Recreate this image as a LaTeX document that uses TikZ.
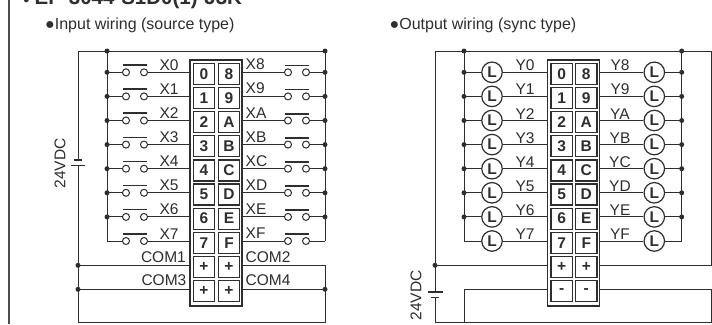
\documentclass[tikz,border=0pt]{standalone}
\usepackage{fontspec}
\setmainfont{Liberation Sans}
\definecolor{ink}{HTML}{2E2E2E}
\tikzset{
  wire/.style={draw=ink,line width=1pt},
  frameline/.style={draw=ink!85,line width=1.8pt},
  blockbox/.style={draw=ink,line width=1.2pt,fill=white,inner sep=0pt,minimum width=52pt,minimum height=246pt},
  cellbox/.style={draw=ink,line width=1.2pt,fill=white,inner sep=0pt,minimum width=21.5pt,minimum height=21pt,font=\fontsize{15.5}{16}\selectfont\bfseries,text=ink},
  contact/.style={circle,draw=ink,line width=1pt,fill=white,inner sep=0pt,minimum size=7pt},
  lamp/.style={circle,draw=ink,line width=1.2pt,fill=white,inner sep=0pt,minimum size=20.5pt,font=\fontsize{15.5}{16}\selectfont\bfseries,text=ink},
  dotjoin/.style={circle,fill=ink,inner sep=0pt,minimum size=5pt},
  lab/.style={inner sep=0pt,text=ink,font=\fontsize{15.5}{16}\selectfont},
  heading/.style={inner sep=0pt,anchor=base west,text=ink,font=\fontsize{16}{17}\selectfont},
  barline/.style={draw=ink,line width=1.6pt},
  plate/.style={draw=ink,line width=1.1pt}
}
\begin{document}
\begin{tikzpicture}[x=1pt,y=-1pt]
\useasboundingbox (0,0) rectangle (712,324);
\fill[white] (0,0) rectangle (712,324);
% frame line and headings
\coordinate (ft) at (9.3,0); \coordinate (fb) at (9.3,324);
\draw[frameline] (ft) -- (fb);
\node[inner sep=0pt,anchor=base west,text=ink,font=\fontsize{11}{12}\selectfont] (ttlmark) at (23,4) {●};
\node[inner sep=0pt,anchor=base west,text=ink,font=\fontsize{20.5}{21}\selectfont\bfseries] (ttl) at (34.5,5) {EP-3044-S1D0(1)-J3K};
\node[heading] (hin) at (45,29) {●Input wiring (source type)};
\node[heading] (hout) at (389.5,29) {●Output wiring (sync type)};

% ---------- INPUT ----------
\coordinate (a) at (78,51); \coordinate (bl) at (107,51); \coordinate (br) at (325,51);
\coordinate (a1) at (78,160); \coordinate (a2) at (78,165.7); \coordinate (ab) at (78,322.7);
\coordinate (rb) at (325,322.7);
\coordinate (blb) at (107,240.7); \coordinate (brb) at (325,240.7);
\node[blockbox] (bi) at (216,183) {};
\coordinate (c1l) at (bi.west |- 0,265.3); \coordinate (c3l) at (bi.west |- 0,289.3);
\coordinate (c2r) at (bi.east |- 0,265.3); \coordinate (c4r) at (bi.east |- 0,289.3);
\coordinate (j1) at (78,265.3); \coordinate (j3) at (78,289.3);
\coordinate (j2) at (325,265.3); \coordinate (j4) at (325,289.3);
\draw[wire] (bl) -- (a) -- (a1);
\draw[wire] (a2) -- (ab) -- (rb) -- (j2) -- (c2r);
\draw[wire] (bl) -- (br) -- (brb);
\draw[wire] (bl) -- (blb);
\draw[wire] (j1) -- (c1l);
\draw[wire] (j3) -- (c3l);
\draw[wire] (j4) -- (c4r);
\draw[plate] (74,160) -- (82,160);
\draw[plate] (71,165.7) -- (85,165.7);
\node[lab,rotate=90] (v1) at (60,163.5) {24VDC};
\foreach \i/\n/\m/\p/\q in {0/0/8/0/8,1/1/9/1/9,2/2/A/2/A,3/3/B/3/B,4/4/C/4/C,5/5/D/5/D,6/6/E/6/E,7/7/F/7/F}{
  \coordinate (il\i) at (107,{72.3+24.1*\i});
  \coordinate (ir\i) at (325,{72.3+24.1*\i});
  \coordinate (ipl\i) at (bi.west |- il\i);
  \coordinate (ipr\i) at (bi.east |- ir\i);
  \node[contact] (sa\i) at (126,{72.3+24.1*\i}) {};
  \node[contact] (sb\i) at (144,{72.3+24.1*\i}) {};
  \node[contact] (sc\i) at (288,{72.3+24.1*\i}) {};
  \node[contact] (sd\i) at (306,{72.3+24.1*\i}) {};
  \draw[wire] (il\i) -- (sa\i);
  \draw[wire] (sb\i) -- (ipl\i);
  \draw[wire] (ipr\i) -- (sc\i);
  \draw[wire] (sd\i) -- (ir\i);
  \draw[barline] (123,{65+24.1*\i}) -- (147,{65+24.1*\i});
  \draw[barline] (285,{65.5+24.1*\i}) -- (309,{65.5+24.1*\i});
  \node[lab] (xl\i) at (169,{65+24.1*\i}) {X\p};
  \node[lab,anchor=west] (xr\i) at (245.5,{64.5+24.1*\i}) {X\q};
  \node[cellbox] (cl\i) at (204,{74+24.1*\i}) {\n};
  \node[cellbox] (cr\i) at (229,{74+24.1*\i}) {\m};
}
\foreach \i in {0,...,6}{
  \node[dotjoin] at (il\i) {};
  \node[dotjoin] at (ir\i) {};
}
\node[cellbox] (cp1) at (204,266.8) {+};
\node[cellbox] (cp2) at (229,266.8) {+};
\node[cellbox] (cp3) at (204,290.9) {+};
\node[cellbox] (cp4) at (229,290.9) {+};
\node[lab,anchor=east] (c1) at (186,257) {COM1};
\node[lab,anchor=west] (c2) at (245.5,257) {COM2};
\node[lab,anchor=east] (c3) at (186.5,280.5) {COM3};
\node[lab,anchor=west] (c4) at (245.5,280.5) {COM4};
\foreach \p in {bl,br,j1,j3,j4}{ \node[dotjoin] at (\p) {}; }

% ---------- OUTPUT ----------
\coordinate (oa) at (435,51); \coordinate (obl) at (464,51); \coordinate (obr) at (681.7,51); \coordinate (oe) at (711.2,51);
\coordinate (oa1) at (435,292); \coordinate (oa2) at (435,297.3); \coordinate (oab) at (435,322.7);
\coordinate (oeb) at (711.2,322.7);
\coordinate (oblb) at (464,240.7); \coordinate (obrb) at (681.7,240.7);
\node[blockbox] (bo) at (573.5,183) {};
\coordinate (pl) at (bo.west |- 0,265.3); \coordinate (pr) at (bo.east |- 0,265.3);
\coordinate (ml) at (bo.west |- 0,289.3); \coordinate (mr) at (bo.east |- 0,289.3);
\coordinate (oj) at (435,265.3); \coordinate (oe1) at (711.2,265.3); \coordinate (oe2) at (711.2,289.3);
\coordinate (mlc) at (464,289.3); \coordinate (mlb) at (464,322.7);
\draw[wire] (pr) -- (oe1) -- (oe) -- (oa) -- (oa1);
\draw[wire] (obl) -- (oblb);
\draw[wire] (obr) -- (obrb);
\draw[wire] (oj) -- (pl);
\draw[wire] (oa2) -- (oab) -- (oeb) -- (oe2) -- (mr);
\draw[wire] (mlb) -- (mlc) -- (ml);
\draw[plate] (428,292) -- (443,292);
\draw[plate] (431,297.3) -- (439,297.3);
\node[lab,rotate=90] (v2) at (416,295.5) {24VDC};
\foreach \i/\n/\m in {0/0/8,1/1/9,2/2/A,3/3/B,4/4/C,5/5/D,6/6/E,7/7/F}{
  \coordinate (ol\i) at (464,{72.3+24.1*\i});
  \coordinate (or\i) at (681.7,{72.3+24.1*\i});
  \coordinate (opl\i) at (bo.west |- ol\i);
  \coordinate (opr\i) at (bo.east |- or\i);
  \node[lamp] (la\i) at (492,{72.3+24.1*\i}) {L};
  \node[lamp] (lb\i) at (654.3,{72.3+24.1*\i}) {L};
  \draw[wire] (ol\i) -- (la\i);
  \draw[wire] (la\i) -- (opl\i);
  \draw[wire] (opr\i) -- (lb\i);
  \draw[wire] (lb\i) -- (or\i);
  \node[lab] (yl\i) at (525,{65.5+24.1*\i}) {Y\n};
  \node[lab] (yr\i) at (620,{65.5+24.1*\i}) {Y\m};
  \node[cellbox] (dl\i) at (561.7,{74+24.1*\i}) {\n};
  \node[cellbox] (dr\i) at (586.3,{74+24.1*\i}) {\m};
}
\foreach \i in {0,...,6}{
  \node[dotjoin] at (ol\i) {};
  \node[dotjoin] at (or\i) {};
}
\node[cellbox] (dp1) at (561.7,266.8) {+};
\node[cellbox] (dp2) at (586.3,266.8) {+};
\node[cellbox] (dm1) at (561.7,290.9) {-};
\node[cellbox] (dm2) at (586.3,290.9) {-};
\foreach \p in {obl,obr,oj}{ \node[dotjoin] at (\p) {}; }
\end{tikzpicture}
\end{document}
